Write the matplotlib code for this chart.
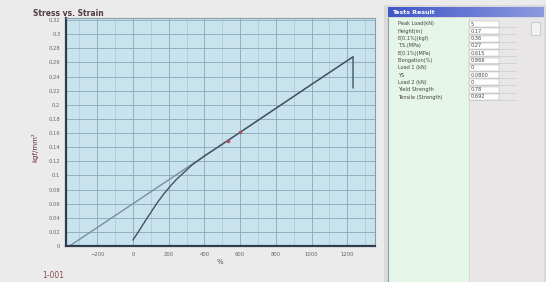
import numpy as np
import matplotlib
matplotlib.use("Agg")
import matplotlib.pyplot as plt
from matplotlib.patches import Rectangle

# ---- data ----
strain_curve = [0, 30, 70, 135, 175, 208, 240, 280, 330, 400, 600, 800, 1000,
                1232, 1232]
stress_curve = [0.0085, 0.020, 0.036, 0.061, 0.0745, 0.0845, 0.0935, 0.103,
                0.1147, 0.1274, 0.161, 0.195, 0.229, 0.268, 0.224]
strain_line = [-355, 1232]
stress_line = [0.0, 0.268]
mark_strain = [532, 600]
mark_stress = [0.149, 0.161]

x_ticks = [-200, 0, 200, 400, 600, 800, 1000, 1200]
y_ticks = [0, 0.02, 0.04, 0.06, 0.08, 0.1, 0.12, 0.14, 0.16, 0.18, 0.2,
           0.22, 0.24, 0.26, 0.28, 0.3, 0.32]

result_names = ["Peak Load(kN)", "Height(in)", "E(0.1%)(kgf)", "T.S.(MPa)",
                "E(0.1%)(MPa)", "Elongation(%)", "Load 1 (kN)", "YS",
                "Load 2 (kN)", "Yield Strength", "Tensile (Strength)"]
result_values = ["5", "0.17", "0.36", "0.27", "0.615", "0.866", "0",
                 "0.0800", "0", "0.78", "0.692"]

W, H = 546, 282


def fx(x):
    return x / W


def fy(y):
    return 1 - y / H


fig = plt.figure(figsize=(W / 100, H / 100), dpi=100)
fig.patch.set_facecolor("#ebebeb")

# chart area
ax = fig.add_axes([fx(66), fy(246), (375 - 66) / W, (246 - 18) / H])
ax.set_facecolor("#c8e2ee")
ax.set_xlim(-375, 1355)
ax.set_ylim(0, 0.323)
ax.set_xticks(x_ticks)
ax.set_xticks(np.arange(-300, 1301, 200), minor=True)
ax.set_yticks(y_ticks)
ax.set_yticklabels(["%g" % v for v in y_ticks])
ax.grid(True, which="major", color="#8fb0c2", lw=0.7)
ax.grid(True, which="minor", axis="x", color="#a9c8d8", lw=0.5)
ax.tick_params(labelsize=3.8, colors="#666666", length=0, pad=4)
ax.tick_params(which="minor", length=0)
for s in ["left", "bottom"]:
    ax.spines[s].set_color("#2f3d4a")
    ax.spines[s].set_linewidth(1.6)
for s in ["top", "right"]:
    ax.spines[s].set_color("#8a9aa8")
    ax.spines[s].set_linewidth(0.8)

ax.plot(strain_line, stress_line, color="#7a8ea0", lw=1.0)
ax.plot(strain_curve, stress_curve, color="#44525f", lw=1.0)
ax.plot(mark_strain, mark_stress, ls="none", marker="o", ms=1.6,
        color="#b05060")

fig.text(fx(33), fy(14), "Stress vs. Strain", fontsize=5.5, fontweight="bold",
         color="#553a48", va="center")
fig.text(fx(35), fy(147), "kgf/mm²", fontsize=5, rotation=90, color="#6a3040",
         ha="center", va="center")
fig.text(fx(220), fy(262), "%", fontsize=5, color="#555555", ha="center",
         va="center")
fig.text(fx(42), fy(275), "1-001", fontsize=5.5, color="#8a4a50", va="center")

# result panel
bg = fig.add_axes([0, 0, 1, 1], zorder=-1)
bg.set_xlim(0, W)
bg.set_ylim(H, 0)
bg.axis("off")
bg.add_patch(Rectangle((384, 5), 162, 277, facecolor="#d9d9d9", edgecolor="none"))
bg.add_patch(Rectangle((388, 18), 81, 264, facecolor="#e5f5e7", edgecolor="none"))
bg.add_patch(Rectangle((469, 18), 75, 264, facecolor="#e8e6e6", edgecolor="none"))
grad = np.linspace(0, 1, 100).reshape(1, -1)
bg.imshow(grad, extent=(388, 544, 17, 7), cmap=matplotlib.colors.LinearSegmentedColormap.from_list(
    "hdr", ["#3f56c8", "#8c9ae0"]), aspect="auto", zorder=2)
bg.text(392, 12, "Tests Result", fontsize=4.5, color="white", va="center",
        fontweight="bold", zorder=3)

row_y = 24
for name, val in zip(result_names, result_values):
    bg.text(398, row_y, name, fontsize=3.6, color="#444444", va="center")
    bg.add_patch(Rectangle((469, row_y - 3), 30, 6, facecolor="white",
                           edgecolor="#aaaaaa", lw=0.3))
    bg.text(471, row_y, val, fontsize=3.6, color="#444444", va="center")
    bg.plot([469, 516], [row_y + 3, row_y + 3], color="#c4c4c4", lw=0.4)
    row_y += 7.3
bg.plot([388, 388], [18, 282], color="#9a9a9a", lw=0.8)
bg.plot([469, 469], [18, 282], color="#d0d0d0", lw=0.5)
bg.add_patch(Rectangle((531, 22), 9, 13, facecolor="#f2f2f2", edgecolor="#b0b0b0", lw=0.4))

fig.savefig("out.png", dpi=100, facecolor=fig.get_facecolor())
